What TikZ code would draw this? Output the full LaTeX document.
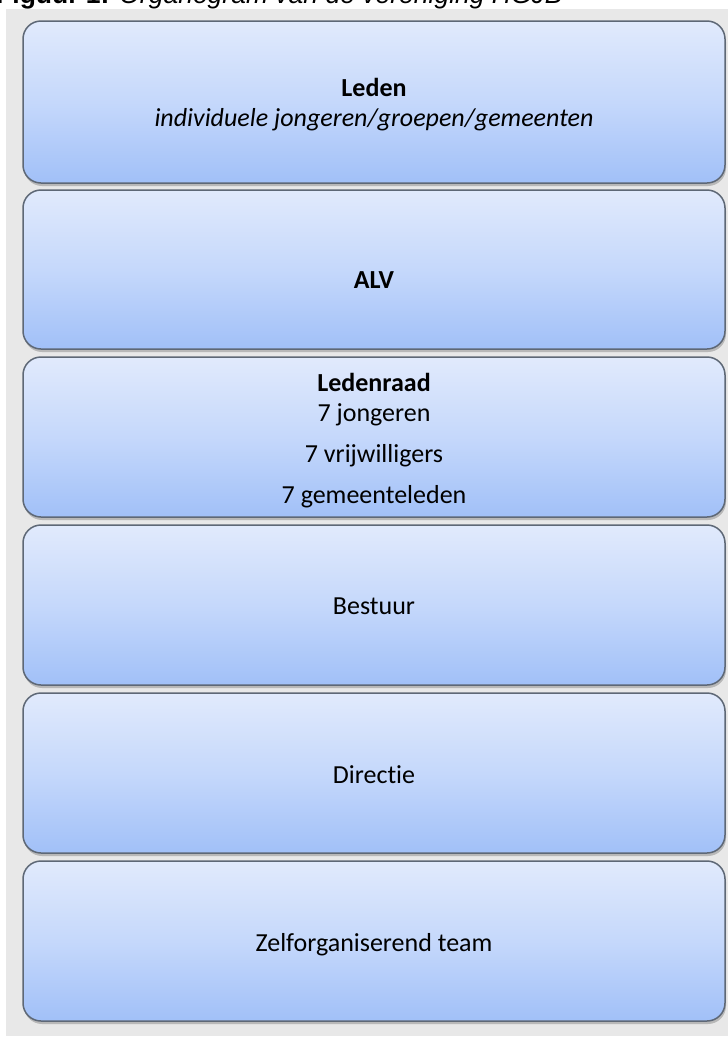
\documentclass[tikz,border=0pt]{standalone}
\usepackage{fontspec}
\setmainfont{Carlito}[Ligatures=NoCommon]
\newfontfamily\capfont{Liberation Sans}
\usetikzlibrary{shadows}
\definecolor{bgc}{HTML}{E8E8E8}
\definecolor{topc}{HTML}{E1EAFC}
\definecolor{midc}{HTML}{C5D8FB}
\definecolor{botc}{HTML}{A1C0F8}
\definecolor{edgec}{HTML}{5E6876}
\tikzset{
  orgbox/.style={draw=edgec, line width=1.5pt, rounded corners=18pt,
    top color=topc, bottom color=botc, middle color=midc,
    minimum width=702pt, inner sep=0pt,
    drop shadow={shadow xshift=1pt, shadow yshift=-3pt, opacity=0.3, fill=black!70}},
  lbl/.style={font=\fontsize{26}{31}\selectfont, inner sep=0pt, anchor=base},
}
\begin{document}
\begin{tikzpicture}[x=1pt,y=-1pt]
\useasboundingbox (0,0) rectangle (728,1037);
\clip (0,0) rectangle (728,1037);
\fill[white] (0,0) rectangle (728,1037);
\fill[bgc] (6,9) rectangle (728,1036);
\node[anchor=base west, inner sep=0pt, font=\capfont\fontsize{26.5}{31}\selectfont] (cap) at (-4,3) {\textbf{Figuur 1:} \textit{Organogram van de vereniging HGJB}};
% boxes
\node[orgbox, minimum height=162pt] (b1) at (374,102) {};
\node[orgbox, minimum height=159pt] (b2) at (374,269.5) {};
\node[orgbox, minimum height=160pt] (b3) at (374,437) {};
\node[orgbox, minimum height=160pt] (b4) at (374,605) {};
\node[orgbox, minimum height=160pt] (b5) at (374,773) {};
\node[orgbox, minimum height=160pt] (b6) at (374,941) {};
% texts
\node[lbl] (t1a) at (374,96) {\textbf{Leden}};
\node[lbl] (t1b) at (374,126) {\textit{individuele jongeren/groepen/gemeenten}};
\node[lbl] (t2) at (374,288) {\textbf{ALV}};
\node[lbl] (t3a) at (374,391) {\textbf{Ledenraad}};
\node[lbl] (t3b) at (374,421) {7 jongeren};
\node[lbl] (t3c) at (374,462) {7 vrijwilligers};
\node[lbl] (t3d) at (374,503) {7 gemeenteleden};
\node[lbl] (t4) at (374,614) {Bestuur};
\node[lbl] (t5) at (374,783) {Directie};
\node[lbl] (t6) at (374,951) {Zelforganiserend team};
\end{tikzpicture}
\end{document}
